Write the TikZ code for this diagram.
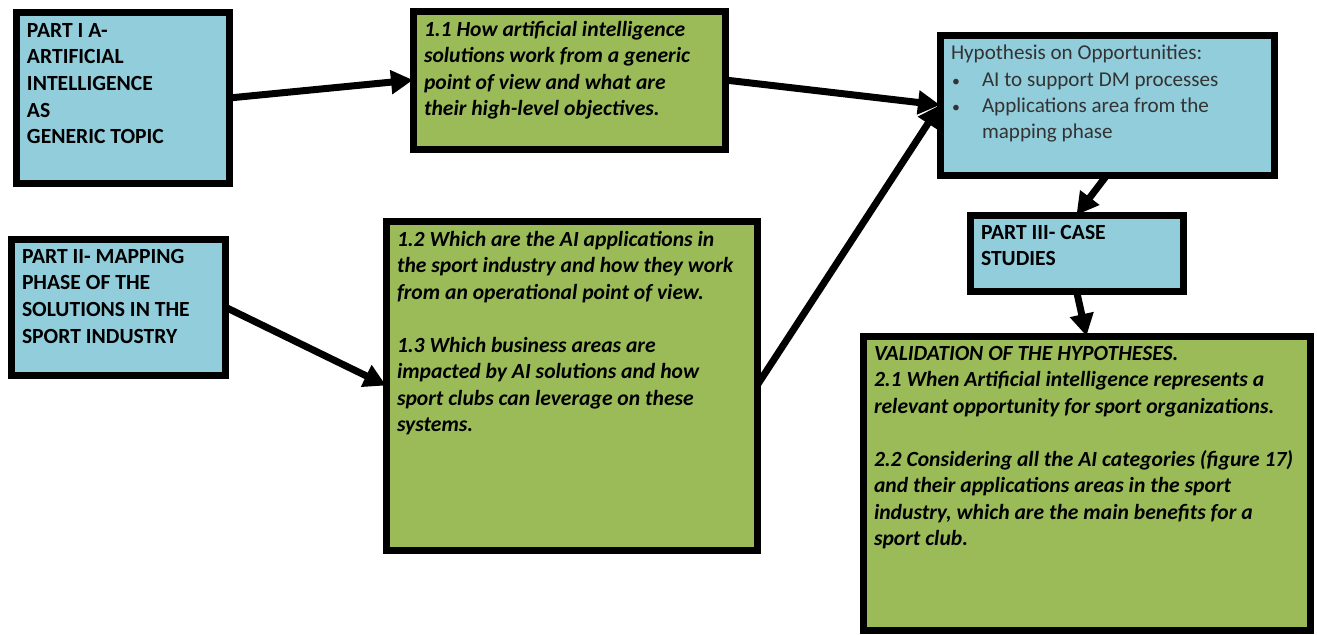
\documentclass[tikz,border=0pt]{standalone}
\usepackage{fontspec}
\setmainfont{Carlito}
\usetikzlibrary{arrows.meta}

\definecolor{partblue}{HTML}{92CDDC}
\definecolor{askgreen}{HTML}{9BBB59}

% top-aligned text of fixed size inside a box
\newcommand{\boxtext}[3]{\parbox[t][#2][t]{#1}{#3}}
\newcommand{\hypitem}{\hspace*{0.02cm}\makebox[0.60cm][l]{\scalebox{0.75}{\textbullet}}}

\begin{document}
\begin{tikzpicture}[
    box/.style={draw, line width=0.14cm, outer sep=0pt, inner xsep=0.22cm, inner ysep=0.2cm, anchor=north west},
    part/.style={box, fill=partblue, font=\fontsize{12.3}{15.2}\selectfont\bfseries},
    ask/.style={box, fill=askgreen, font=\fontsize{12.3}{15.1}\selectfont\bfseries\itshape},
    hypo/.style={box, fill=partblue, text=black!80, font=\fontsize{12}{15}\selectfont},
    link/.style={line width=0.14cm, -{Triangle[length=0.44cm, width=0.46cm]}}
]
    \useasboundingbox (0,0) rectangle (26.34,-12.7);

    % Draw the three parts
    \node[part] (partA) at (0.32,-0.26) {\boxtext{3.82cm}{3.00cm}{PART I A-\\ARTIFICIAL\\INTELLIGENCE\\AS\\GENERIC TOPIC}};
    \node[part] (partB) at (0.22,-4.78) {\boxtext{3.84cm}{2.32cm}{PART II- MAPPING\\PHASE OF THE\\SOLUTIONS IN THE\\SPORT INDUSTRY}};
    \node[part] (partC) at (19.40,-4.30) {\boxtext{3.82cm}{1.12cm}{PART III- CASE\\STUDIES}};

    % Draw the research questions
    \node[ask] (q11) at (8.26,-0.22) {\boxtext{5.80cm}{2.36cm}{1.1 How artificial intelligence\\solutions work from a generic\\point of view and what are\\their high-level objectives.}};
    \node[ask] (q12) at (7.72,-4.42) {\boxtext{6.98cm}{6.18cm}{1.2 Which are the AI applications in\\the sport industry and how they work\\from an operational point of view.\\[15.1pt]1.3 Which business areas are\\impacted by AI solutions and how\\sport clubs can leverage on these\\systems.}};
    \node[ask] (valid) at (17.26,-6.72) {\boxtext{8.50cm}{5.48cm}{VALIDATION OF THE HYPOTHESES.\\2.1 When Artificial intelligence represents a\\relevant opportunity for sport organizations.\\[15.1pt]2.2 Considering all the AI categories (figure 17)\\and their applications areas in the sport\\industry, which are the main benefits for a\\sport club.}};

    % Draw the hypothesis
    \node[hypo] (hyp) at (18.80,-0.70) {\boxtext{6.24cm}{2.40cm}{Hypothesis on Opportunities:\\
        \hypitem AI to support DM processes\\
        \hypitem Applications area from the\\
        \hspace*{0.62cm}mapping phase}};

    % Draw connections
    \draw[link] (partA.east) -- (q11.west);
    \draw[link] (q11.east) -- (hyp.west);
    \draw[link] (partB.east) -- (q12.west);
    \draw[link] (q12.east) -- (hyp.west);
    \draw[link] (hyp.south) -- (partC.north);
    \draw[link] (partC.south) -- (valid.north);
\end{tikzpicture}
\end{document}
